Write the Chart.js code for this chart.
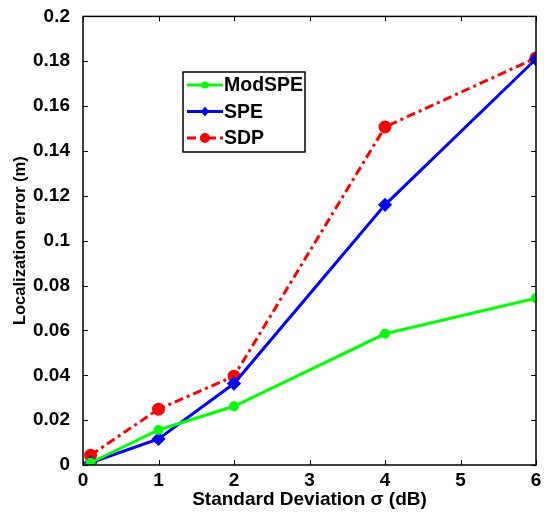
<!DOCTYPE html>
<html>
<head>
<meta charset="utf-8">
<script src="https://cdn.jsdelivr.net/npm/chart.js@4.4.0/dist/chart.umd.min.js"></script>
<style>
  html, body { margin: 0; padding: 0; background: #fff; }
  #wrap { width: 552px; height: 512px; }
</style>
</head>
<body>
<div id="wrap"><canvas id="myChart" width="552" height="512"></canvas></div>
<script>
// sigma values (dB)
let sigma = [0.1, 1, 2, 4, 6]
let modSPE = [0.001, 0.0156, 0.0262, 0.0585, 0.0744]
let spe = [0.001, 0.0116, 0.0363, 0.116, 0.181]
let sdp = [0.0043, 0.0249, 0.0396, 0.1507, 0.1815]

let xTicks = [0, 1, 2, 3, 4, 5, 6]
let yTicks = [0, 0.02, 0.04, 0.06, 0.08, 0.1, 0.12, 0.14, 0.16, 0.18, 0.2]

const font = "'Liberation Sans', Arial, sans-serif"

function toPoints(ys) {
  return sigma.map((x, i) => ({x: x, y: ys[i]}))
}

// box around the plot with inward ticks on every side
const boxPlugin = {
  id: 'box',
  afterDraw(chart) {
    let c = chart.ctx
    let a = chart.chartArea
    let xs = chart.scales.x
    let ys = chart.scales.y
    c.save()
    c.strokeStyle = '#000'
    c.lineWidth = 1
    c.beginPath()
    xTicks.forEach(t => {
      let px = Math.round(xs.getPixelForValue(t)) + 0.5
      c.moveTo(px, a.bottom); c.lineTo(px, a.bottom - 5)
      c.moveTo(px, a.top); c.lineTo(px, a.top + 5)
    })
    yTicks.forEach(t => {
      let py = Math.round(ys.getPixelForValue(t)) + 0.5
      c.moveTo(a.left, py); c.lineTo(a.left + 5, py)
      c.moveTo(a.right, py); c.lineTo(a.right - 5, py)
    })
    c.stroke()
    c.lineWidth = 1.5
    c.strokeRect(a.left, a.top, a.right - a.left, a.bottom - a.top)
    c.restore()
  }
}

// legend box drawn inside the axes
const legendPlugin = {
  id: 'boxLegend',
  afterDraw(chart) {
    let c = chart.ctx
    let bx = 183, by = 72, bw = 122, bh = 80
    c.save()
    c.fillStyle = '#fff'
    c.fillRect(bx, by, bw, bh)
    c.strokeStyle = '#000'
    c.lineWidth = 1.5
    c.strokeRect(bx, by, bw, bh)
    chart.data.datasets.forEach((ds, i) => {
      let y = by + 13 + i * 26.5
      c.strokeStyle = ds.borderColor
      c.lineWidth = ds.borderWidth
      c.setLineDash(ds.borderDash || [])
      c.beginPath()
      c.moveTo(bx + 4, y); c.lineTo(bx + 40, y)
      c.stroke()
      c.setLineDash([])
      c.fillStyle = ds.pointBackgroundColor
      c.beginPath()
      let r = ds.pointRadius
      if (ds.pointStyle === 'rectRot') {
        c.moveTo(bx + 22, y - r); c.lineTo(bx + 22 + r * 0.8, y)
        c.lineTo(bx + 22, y + r); c.lineTo(bx + 22 - r * 0.8, y)
        c.closePath()
      } else {
        c.arc(bx + 22, y, r, 0, Math.PI * 2)
      }
      c.fill()
      c.fillStyle = '#000'
      c.font = 'bold 19.5px ' + font
      c.textBaseline = 'middle'
      c.fillText(ds.label, bx + 41, y + 1)
    })
    c.restore()
  }
}

const ctx = document.getElementById('myChart').getContext('2d')
const myChart = new Chart(ctx, {
  type: 'line',
  data: {
    datasets: [{
      label: 'ModSPE',
      data: toPoints(modSPE),
      borderColor: '#00ff00',
      backgroundColor: '#00ff00',
      pointBackgroundColor: '#00ff00',
      pointBorderColor: '#00ff00',
      borderWidth: 3,
      pointRadius: 3.5,
      pointStyle: 'circle'
    },
    {
      label: 'SPE',
      data: toPoints(spe),
      borderColor: '#0000ff',
      backgroundColor: '#0000ff',
      pointBackgroundColor: '#0000ff',
      pointBorderColor: '#0000ff',
      borderWidth: 3,
      pointRadius: 5,
      pointStyle: 'rectRot'
    },
    {
      label: 'SDP',
      data: toPoints(sdp),
      borderColor: '#ff0000',
      backgroundColor: '#ff0000',
      pointBackgroundColor: '#ff0000',
      pointBorderColor: '#ff0000',
      borderWidth: 3,
      borderDash: [9, 4, 3, 4],
      pointRadius: 5,
      pointStyle: 'circle'
    }]
  },
  options: {
    responsive: false,
    animation: false,
    layout: { padding: { top: 15, right: 16, left: 11, bottom: 0 } },
    plugins: { legend: { display: false }, tooltip: { enabled: false } },
    scales: {
      x: {
        type: 'linear',
        min: 0,
        max: 6,
        afterBuildTicks: (s) => { s.ticks = xTicks.map(v => ({value: v})) },
        afterFit: (s) => { s.height = 47 },
        grid: { display: false },
        border: { display: false },
        ticks: {
          color: '#000',
          padding: -4,
          font: { family: font, size: 19, weight: 'bold' },
          callback: (v) => String(v)
        },
        title: {
          display: true,
          text: 'Standard Deviation σ (dB)',
          color: '#000',
          padding: { top: 0, bottom: 1 },
          font: { family: font, size: 19, weight: 'bold' }
        }
      },
      y: {
        min: 0,
        max: 0.2,
        afterBuildTicks: (s) => { s.ticks = yTicks.map(v => ({value: v})) },
        afterFit: (s) => { s.width = 72 },
        grid: { display: false },
        border: { display: false },
        ticks: {
          color: '#000',
          padding: 5,
          font: { family: font, size: 19, weight: 'bold' },
          callback: (v) => String(Number(v.toFixed(2)))
        },
        title: {
          display: true,
          text: 'Localization error (m)',
          color: '#000',
          padding: { top: 0, bottom: 0 },
          font: { family: font, size: 16.5, weight: 'bold' }
        }
      }
    }
  },
  plugins: [boxPlugin, legendPlugin]
})
</script>
</body>
</html>
